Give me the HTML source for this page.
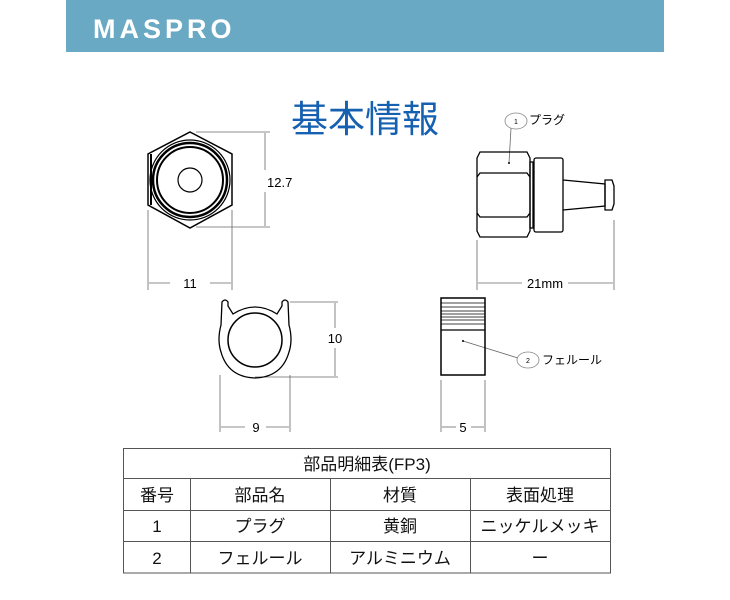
<!DOCTYPE html>
<html><head><meta charset="utf-8"><style>
body{margin:0;width:730px;height:600px;background:#fff;overflow:hidden;font-family:"Liberation Sans","Noto Sans CJK JP",sans-serif}
</style></head><body>
<svg width="730" height="600" xmlns="http://www.w3.org/2000/svg" style="position:absolute;left:0;top:0">
<rect x="66" y="0" width="598" height="52" fill="#69a9c4"/>
<text x="93" y="38" font-family="Liberation Sans, sans-serif" font-size="27" font-weight="bold" fill="#fff" letter-spacing="4">MASPRO</text>
<text x="365" y="132" text-anchor="middle" font-family="Noto Sans CJK JP, sans-serif" font-size="37" fill="#1560b0">基本情報</text>
<g fill="none" stroke="#000">
<polygon points="190,132 232,154 232,205 190,228 148,205 148,154" stroke-width="1.5"/>
<circle cx="190" cy="180" r="40" stroke-width="1.2"/>
<circle cx="190" cy="180" r="37" stroke-width="2.5"/>
<circle cx="190" cy="180" r="33" stroke-width="2"/>
<circle cx="190" cy="180" r="12" stroke-width="1.2"/>
<line x1="151" y1="154" x2="151" y2="205" stroke-width="2"/>
</g>
<g stroke="#666" stroke-width="0.8" fill="none">
<line x1="196" y1="132" x2="270" y2="132"/><line x1="196" y1="227" x2="270" y2="227"/>
<line x1="265" y1="133" x2="265" y2="170"/><line x1="265" y1="192" x2="265" y2="226"/>
<line x1="148" y1="210" x2="148" y2="290"/><line x1="232" y1="210" x2="232" y2="290"/>
<line x1="149" y1="283" x2="170" y2="283"/><line x1="210" y1="283" x2="231" y2="283"/>
<line x1="477" y1="240" x2="477" y2="290"/><line x1="614" y1="220" x2="614" y2="290"/>
<line x1="478" y1="283" x2="522" y2="283"/><line x1="568" y1="283" x2="613" y2="283"/>
<line x1="220" y1="375" x2="220" y2="432"/><line x1="290" y1="375" x2="290" y2="432"/>
<line x1="221" y1="427" x2="245" y2="427"/><line x1="266" y1="427" x2="289" y2="427"/>
<line x1="290" y1="302" x2="338" y2="302"/><line x1="255" y1="377" x2="338" y2="377"/>
<line x1="335" y1="303" x2="335" y2="328"/><line x1="335" y1="348" x2="335" y2="376"/>
<line x1="441" y1="380" x2="441" y2="432"/><line x1="485" y1="380" x2="485" y2="432"/>
<line x1="442" y1="427" x2="456" y2="427"/><line x1="471" y1="427" x2="484" y2="427"/>
<line x1="511" y1="128" x2="509" y2="163"/>
<line x1="463" y1="341" x2="518" y2="358"/>
</g>
<g font-size="13" fill="#000">
<text x="267" y="187">12.7</text>
<text x="190" y="288" text-anchor="middle">11</text>
<text x="545" y="288" text-anchor="middle">21mm</text>
<text x="335" y="343" text-anchor="middle">10</text>
<text x="256" y="432" text-anchor="middle">9</text>
<text x="463" y="432" text-anchor="middle">5</text>
<text x="529" y="124" font-family="Noto Sans CJK JP, sans-serif" font-size="12">プラグ</text>
<text x="542" y="364" font-family="Noto Sans CJK JP, sans-serif" font-size="12">フェルール</text>
<text x="516" y="124" font-size="7" text-anchor="middle">1</text>
<text x="528" y="363" font-size="7" text-anchor="middle">2</text>
</g>
<ellipse cx="516" cy="121" rx="11" ry="8" fill="none" stroke="#888" stroke-width="0.8"/>
<ellipse cx="528" cy="360" rx="11" ry="8" fill="none" stroke="#888" stroke-width="0.8"/>
<circle cx="509" cy="163" r="1" fill="#000"/>
<circle cx="463" cy="341" r="1" fill="#000"/>
<g fill="none" stroke="#000" stroke-width="1.3">
<path d="M480,152 L527,152 L530,158 L530,231 L527,237 L480,237 L477,231 L477,158 Z"/>
<path d="M477,177 L480,173 L527,173 L530,177 M477,213 L480,217 L527,217 L530,213"/>
<rect x="530" y="162" width="3" height="66"/>
<rect x="534" y="158" width="29" height="74" rx="2"/>
<path d="M563,180 L605,184 L605,206 L563,210"/>
<path d="M605,180 L612,180 L614,186 L614,204 L612,210 L605,210 Z"/>
<circle cx="255" cy="340" r="27" stroke-width="1.5"/>
<path d="M233,314 Q255,300 277,314 L282,306 L282,302 Q285,298 288,302 L289,325 Q293,340 289,352 Q282,377 255,378 Q228,377 221,352 Q217,340 221,325 L222,302 Q225,298 228,302 L228,306 Z" stroke-width="1.3"/>
<rect x="441" y="298" width="44" height="77" stroke-width="1.5"/>
<line x1="441" y1="330" x2="485" y2="330"/>
</g>
<g stroke="#000" stroke-width="0.8">
<line x1="441" y1="303" x2="485" y2="303"/><line x1="441" y1="307" x2="485" y2="307"/>
<line x1="441" y1="311" x2="485" y2="311"/><line x1="441" y1="314" x2="485" y2="314"/>
<line x1="441" y1="317" x2="485" y2="317"/><line x1="441" y1="320" x2="485" y2="320"/>
<line x1="441" y1="324" x2="485" y2="324"/>
</g>
<g stroke="#555" stroke-width="1" fill="none">
<rect x="123.5" y="448.5" width="487" height="124.5"/>
<line x1="123" y1="478.5" x2="611" y2="478.5"/>
<line x1="123" y1="510.5" x2="611" y2="510.5"/>
<line x1="123" y1="541.5" x2="611" y2="541.5"/>
<line x1="190.5" y1="478" x2="190.5" y2="573"/>
<line x1="330.5" y1="478" x2="330.5" y2="573"/>
<line x1="470.5" y1="478" x2="470.5" y2="573"/>
</g>
<g font-family="Liberation Sans, Noto Sans CJK JP, sans-serif" font-size="17" fill="#111" text-anchor="middle">
<text x="367" y="470">部品明細表(FP3)</text>
<text x="157" y="501">番号</text><text x="260" y="501">部品名</text><text x="400" y="501">材質</text><text x="540" y="501">表面処理</text>
<text x="157" y="532">1</text><text x="260" y="532">プラグ</text><text x="400" y="532">黄銅</text><text x="540" y="532">ニッケルメッキ</text>
<text x="157" y="564">2</text><text x="260" y="564">フェルール</text><text x="400" y="564">アルミニウム</text><text x="540" y="564">ー</text>
</g>
</svg>
</body></html>
